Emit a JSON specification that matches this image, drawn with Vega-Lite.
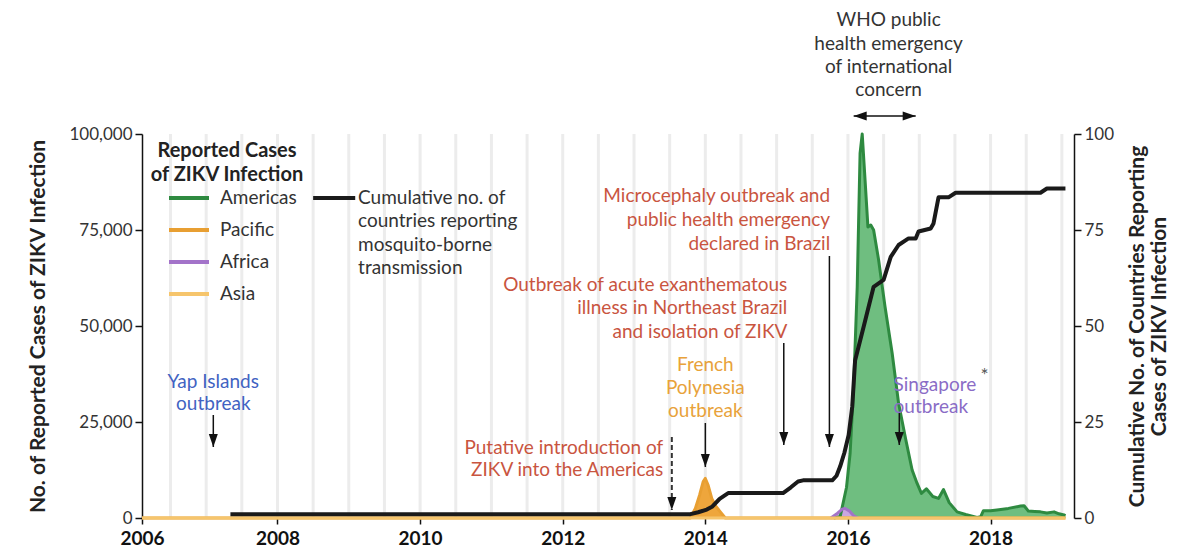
{
  "$schema": "https://vega.github.io/schema/vega-lite/v6.json",
  "width": 932,
  "height": 384,
  "autosize": {"type": "none"},
  "padding": {"left": 142, "top": 134, "right": 122, "bottom": 31},
  "background": "white",
  "config": {
    "font": "Lato",
    "view": {"stroke": null},
    "axis": {"grid": false, "labelFont": "Lato", "titleFont": "Lato"}
  },
  "datasets": {
    "grid": [
      {"year": 2006.5}, {"year": 2007}, {"year": 2007.5}, {"year": 2008}, {"year": 2008.5},
      {"year": 2009}, {"year": 2009.5}, {"year": 2010}, {"year": 2010.5}, {"year": 2011},
      {"year": 2011.5}, {"year": 2012}, {"year": 2012.5}, {"year": 2013}, {"year": 2013.5},
      {"year": 2014}, {"year": 2014.5}, {"year": 2015}, {"year": 2015.5}, {"year": 2016},
      {"year": 2016.5}, {"year": 2017}, {"year": 2017.5}, {"year": 2018}, {"year": 2018.5},
      {"year": 2019}
    ],
    "cases": [
      {"region": "Americas", "year": 2015.8, "cases": 0},
      {"region": "Americas", "year": 2015.89, "cases": 300},
      {"region": "Americas", "year": 2015.98, "cases": 8000},
      {"region": "Americas", "year": 2016.03, "cases": 16800},
      {"region": "Americas", "year": 2016.08, "cases": 34200},
      {"region": "Americas", "year": 2016.13, "cases": 60200},
      {"region": "Americas", "year": 2016.17, "cases": 95000},
      {"region": "Americas", "year": 2016.2, "cases": 100000},
      {"region": "Americas", "year": 2016.24, "cases": 88000},
      {"region": "Americas", "year": 2016.28, "cases": 75800},
      {"region": "Americas", "year": 2016.32, "cases": 76300},
      {"region": "Americas", "year": 2016.36, "cases": 75000},
      {"region": "Americas", "year": 2016.43, "cases": 67200},
      {"region": "Americas", "year": 2016.52, "cases": 55000},
      {"region": "Americas", "year": 2016.62, "cases": 42900},
      {"region": "Americas", "year": 2016.71, "cases": 29900},
      {"region": "Americas", "year": 2016.81, "cases": 20500},
      {"region": "Americas", "year": 2016.9, "cases": 12500},
      {"region": "Americas", "year": 2016.97, "cases": 9000},
      {"region": "Americas", "year": 2017.03, "cases": 6400},
      {"region": "Americas", "year": 2017.1, "cases": 7600},
      {"region": "Americas", "year": 2017.19, "cases": 5600},
      {"region": "Americas", "year": 2017.27, "cases": 5100},
      {"region": "Americas", "year": 2017.34, "cases": 7400},
      {"region": "Americas", "year": 2017.42, "cases": 4000},
      {"region": "Americas", "year": 2017.53, "cases": 1600},
      {"region": "Americas", "year": 2017.65, "cases": 900},
      {"region": "Americas", "year": 2017.81, "cases": 150},
      {"region": "Americas", "year": 2017.86, "cases": 300},
      {"region": "Americas", "year": 2017.9, "cases": 1900},
      {"region": "Americas", "year": 2018.0, "cases": 1900},
      {"region": "Americas", "year": 2018.09, "cases": 2100},
      {"region": "Americas", "year": 2018.25, "cases": 2500},
      {"region": "Americas", "year": 2018.42, "cases": 3100},
      {"region": "Americas", "year": 2018.47, "cases": 3200},
      {"region": "Americas", "year": 2018.53, "cases": 1800},
      {"region": "Americas", "year": 2018.62, "cases": 1700},
      {"region": "Americas", "year": 2018.7, "cases": 1600},
      {"region": "Americas", "year": 2018.79, "cases": 1300},
      {"region": "Americas", "year": 2018.89, "cases": 1600},
      {"region": "Americas", "year": 2018.96, "cases": 1100},
      {"region": "Americas", "year": 2019.03, "cases": 800},
      {"region": "Americas", "year": 2019.05, "cases": 600},
      {"region": "Pacific", "year": 2006.1, "cases": 0},
      {"region": "Pacific", "year": 2013.79, "cases": 0},
      {"region": "Pacific", "year": 2013.86, "cases": 2500},
      {"region": "Pacific", "year": 2013.92, "cases": 6000},
      {"region": "Pacific", "year": 2013.97, "cases": 9500},
      {"region": "Pacific", "year": 2014.0, "cases": 10300},
      {"region": "Pacific", "year": 2014.04, "cases": 8500},
      {"region": "Pacific", "year": 2014.09, "cases": 5100},
      {"region": "Pacific", "year": 2014.15, "cases": 3000},
      {"region": "Pacific", "year": 2014.21, "cases": 1600},
      {"region": "Pacific", "year": 2014.28, "cases": 0},
      {"region": "Pacific", "year": 2019.05, "cases": 0},
      {"region": "Africa", "year": 2015.76, "cases": 0},
      {"region": "Africa", "year": 2015.85, "cases": 1200},
      {"region": "Africa", "year": 2015.92, "cases": 2300},
      {"region": "Africa", "year": 2015.96, "cases": 2500},
      {"region": "Africa", "year": 2016.02, "cases": 1800},
      {"region": "Africa", "year": 2016.08, "cases": 600},
      {"region": "Africa", "year": 2016.14, "cases": 0},
      {"region": "Asia", "year": 2006.1, "cases": 0},
      {"region": "Asia", "year": 2019.05, "cases": 0}
    ],
    "cum": [
      {"year": 2007.34, "n": 1},
      {"year": 2013.79, "n": 1},
      {"year": 2013.9, "n": 1.5},
      {"year": 2014.02, "n": 2.2},
      {"year": 2014.1, "n": 3},
      {"year": 2014.2, "n": 5},
      {"year": 2014.32, "n": 6.5},
      {"year": 2015.09, "n": 6.5},
      {"year": 2015.2, "n": 8},
      {"year": 2015.3, "n": 9.5},
      {"year": 2015.37, "n": 9.8},
      {"year": 2015.78, "n": 9.8},
      {"year": 2015.84, "n": 11},
      {"year": 2015.89, "n": 13.4},
      {"year": 2015.95, "n": 17},
      {"year": 2016.01, "n": 21.6},
      {"year": 2016.06, "n": 29},
      {"year": 2016.1, "n": 41},
      {"year": 2016.22, "n": 49.8},
      {"year": 2016.36, "n": 60.2},
      {"year": 2016.5, "n": 62},
      {"year": 2016.6, "n": 68},
      {"year": 2016.71, "n": 71.1},
      {"year": 2016.85, "n": 72.8},
      {"year": 2016.95, "n": 72.8},
      {"year": 2016.99, "n": 74.6},
      {"year": 2017.16, "n": 75.4},
      {"year": 2017.2, "n": 76.7},
      {"year": 2017.27, "n": 83.5},
      {"year": 2017.41, "n": 83.5},
      {"year": 2017.51, "n": 84.7},
      {"year": 2018.7, "n": 84.7},
      {"year": 2018.79, "n": 85.8},
      {"year": 2019.05, "n": 85.8}
    ],
    "notes": [
      {"x": 2016.57, "y": 129700, "text": "WHO public", "grp": "who"},
      {"x": 2016.57, "y": 123400, "text": "health emergency", "grp": "who"},
      {"x": 2016.57, "y": 117450, "text": "of international", "grp": "who"},
      {"x": 2016.57, "y": 111450, "text": "concern", "grp": "who"},
      {"x": 2015.75, "y": 83850, "text": "Microcephaly outbreak and", "grp": "red"},
      {"x": 2015.75, "y": 77600, "text": "public health emergency", "grp": "red"},
      {"x": 2015.75, "y": 71350, "text": "declared in Brazil", "grp": "red"},
      {"x": 2015.15, "y": 60680, "text": "Outbreak of acute exanthematous", "grp": "red"},
      {"x": 2015.15, "y": 54690, "text": "illness in Northeast Brazil", "grp": "red"},
      {"x": 2015.15, "y": 48440, "text": "and isolation of ZIKV", "grp": "red"},
      {"x": 2014.0, "y": 39840, "text": "French", "grp": "orange"},
      {"x": 2014.0, "y": 33850, "text": "Polynesia", "grp": "orange"},
      {"x": 2014.0, "y": 27860, "text": "outbreak", "grp": "orange"},
      {"x": 2013.41, "y": 18230, "text": "Putative introduction of", "grp": "red"},
      {"x": 2013.41, "y": 12500, "text": "ZIKV into the Americas", "grp": "red"},
      {"x": 2007.1, "y": 35420, "text": "Yap Islands", "grp": "blue"},
      {"x": 2007.1, "y": 29690, "text": "outbreak", "grp": "blue"},
      {"x": 2016.64, "y": 34640, "text": "Singapore", "grp": "purple"},
      {"x": 2016.64, "y": 28910, "text": "outbreak", "grp": "purple"},
      {"x": 2017.86, "y": 37000, "text": "*", "grp": "star"},
      {"x": 2009.13, "y": 83330, "text": "Cumulative no. of", "grp": "legend"},
      {"x": 2009.13, "y": 77340, "text": "countries reporting", "grp": "legend"},
      {"x": 2009.13, "y": 71090, "text": "mosquito-borne", "grp": "legend"},
      {"x": 2009.13, "y": 65100, "text": "transmission", "grp": "legend"}
    ],
    "arrows": [
      {"x": 2007.1, "y": 26820, "y2": 18490, "kind": "solid"},
      {"x": 2014.0, "y": 24740, "y2": 13280, "kind": "solid"},
      {"x": 2015.1, "y": 45570, "y2": 19010, "kind": "solid"},
      {"x": 2015.74, "y": 68230, "y2": 18490, "kind": "solid"},
      {"x": 2016.72, "y": 27340, "y2": 19010, "kind": "solid"},
      {"x": 2013.53, "y": 21090, "y2": 2080, "kind": "dashed"}
    ],
    "hlines": [
      {"x": 2016.08, "x2": 2016.95, "y": 104690, "kind": "who"},
      {"x": 2008.5, "x2": 2009.09, "y": 83330, "kind": "legend"}
    ]
  },
  "layer": [
    {
      "layer": [
        {
          "data": {"name": "grid"},
          "mark": {"type": "rule", "color": "#ececec", "strokeWidth": 3},
          "encoding": {
            "x": {
              "field": "year", "type": "quantitative",
              "scale": {"domain": [2006.1, 2019.17], "nice": false, "zero": false},
              "axis": {
                "orient": "bottom", "title": null,
                "values": [2006.1, 2008, 2010, 2012, 2014, 2016, 2018],
                "labelExpr": "datum.value < 2007 ? '2006' : format(datum.value, 'd')",
                "domain": false, "ticks": true, "tickSize": 6, "tickColor": "#111", "tickWidth": 1.5,
                "labelFontSize": 19, "labelFontWeight": "bold", "labelColor": "#111",
                "labelPadding": 5, "labelFlush": false, "labelOverlap": false
              }
            }
          }
        },
        {
          "data": {"name": "cases"},
          "transform": [{"filter": "datum.region != 'Asia'"}],
          "mark": {"type": "area", "fillOpacity": 1},
          "encoding": {
            "x": {"field": "year", "type": "quantitative"},
            "y": {
              "field": "cases", "type": "quantitative", "stack": null,
              "scale": {"domain": [0, 100000], "nice": false},
              "axis": {
                "orient": "left", "title": "No. of Reported Cases of ZIKV Infection",
                "values": [0, 25000, 50000, 75000, 100000], "format": ",d",
                "domainColor": "#111", "domainWidth": 1.5, "tickColor": "#111", "tickWidth": 1.5, "tickSize": 7,
                "labelFontSize": 17, "labelColor": "#333", "labelPadding": 3,
                "titleFontSize": 21, "titleFontWeight": "bold", "titleColor": "#222", "titlePadding": 20
              }
            },
            "fill": {
              "field": "region", "type": "nominal",
              "scale": {"domain": ["Americas", "Pacific", "Africa"], "range": ["#6fbe80", "#eea63c", "#c9a6e0"]},
              "legend": null
            }
          }
        },
        {
          "data": {"name": "cases"},
          "mark": {"type": "line", "strokeWidth": 3, "strokeJoin": "round"},
          "encoding": {
            "x": {"field": "year", "type": "quantitative"},
            "y": {"field": "cases", "type": "quantitative", "stack": null, "scale": {"domain": [0, 100000], "nice": false}},
            "stroke": {
              "field": "region", "type": "nominal",
              "scale": {"domain": ["Americas", "Pacific", "Africa", "Asia"], "range": ["#2e8a40", "#e89f32", "#a373c9", "#f6c56c"]},
              "legend": {
                "title": ["Reported Cases", "of ZIKV Infection"],
                "orient": "none", "legendX": 8, "legendY": 7, "padding": 0,
                "titleFontSize": 20, "titleFontWeight": "bold", "titleColor": "#222", "titleLineHeight": 24, "titlePadding": -9,
                "titleAlign": "center", "titleAnchor": "middle",
                "labelFontSize": 19, "labelColor": "#333", "labelOffset": 9,
                "symbolType": "stroke", "symbolSize": 1600, "symbolStrokeWidth": 4, "symbolOffset": 10,
                "rowPadding": -1
              }
            }
          }
        },
        {
          "data": {"name": "notes"},
          "transform": [{"filter": "datum.grp == 'red'"}],
          "mark": {"type": "text", "align": "right", "baseline": "middle", "fontSize": 19},
          "encoding": {
            "x": {"field": "x", "type": "quantitative"},
            "y": {"field": "y", "type": "quantitative", "scale": {"domain": [0, 100000], "nice": false}},
            "text": {"field": "text"},
            "color": {
              "field": "grp", "type": "nominal", "legend": null,
              "scale": {"domain": ["who", "red", "orange", "blue", "purple", "star", "legend"], "range": ["#333333", "#c9553f", "#e8a23a", "#4163c2", "#8a6cc6", "#555555", "#333333"]}
            }
          }
        },
        {
          "data": {"name": "notes"},
          "transform": [{"filter": "datum.grp == 'who' || datum.grp == 'orange' || datum.grp == 'blue'"}],
          "mark": {"type": "text", "align": "center", "baseline": "middle", "fontSize": 19},
          "encoding": {
            "x": {"field": "x", "type": "quantitative"},
            "y": {"field": "y", "type": "quantitative", "scale": {"domain": [0, 100000], "nice": false}},
            "text": {"field": "text"},
            "color": {
              "field": "grp", "type": "nominal", "legend": null,
              "scale": {"domain": ["who", "red", "orange", "blue", "purple", "star", "legend"], "range": ["#333333", "#c9553f", "#e8a23a", "#4163c2", "#8a6cc6", "#555555", "#333333"]}
            }
          }
        },
        {
          "data": {"name": "notes"},
          "transform": [{"filter": "datum.grp == 'purple' || datum.grp == 'legend' || datum.grp == 'star'"}],
          "mark": {"type": "text", "align": "left", "baseline": "middle", "fontSize": 19},
          "encoding": {
            "x": {"field": "x", "type": "quantitative"},
            "y": {"field": "y", "type": "quantitative", "scale": {"domain": [0, 100000], "nice": false}},
            "text": {"field": "text"},
            "color": {
              "field": "grp", "type": "nominal", "legend": null,
              "scale": {"domain": ["who", "red", "orange", "blue", "purple", "star", "legend"], "range": ["#333333", "#c9553f", "#e8a23a", "#4163c2", "#8a6cc6", "#555555", "#333333"]}
            }
          }
        },
        {
          "data": {"name": "arrows"},
          "transform": [{"filter": "datum.kind == 'solid'"}],
          "mark": {"type": "rule", "color": "#111", "strokeWidth": 1.5},
          "encoding": {
            "x": {"field": "x", "type": "quantitative"},
            "y": {"field": "y", "type": "quantitative", "scale": {"domain": [0, 100000], "nice": false}},
            "y2": {"field": "y2"}
          }
        },
        {
          "data": {"name": "arrows"},
          "transform": [{"filter": "datum.kind == 'dashed'"}],
          "mark": {"type": "rule", "color": "#333", "strokeWidth": 2, "strokeDash": [5, 3]},
          "encoding": {
            "x": {"field": "x", "type": "quantitative"},
            "y": {"field": "y", "type": "quantitative", "scale": {"domain": [0, 100000], "nice": false}},
            "y2": {"field": "y2"}
          }
        },
        {
          "data": {"name": "arrows"},
          "mark": {"type": "point", "shape": "M-4.5,-13L4.5,-13L0,0Z", "size": 4, "filled": true, "color": "#111", "opacity": 1},
          "encoding": {
            "x": {"field": "x", "type": "quantitative"},
            "y": {"field": "y2", "type": "quantitative", "scale": {"domain": [0, 100000], "nice": false}}
          }
        },
        {
          "data": {"name": "hlines"},
          "transform": [{"filter": "datum.kind == 'who'"}],
          "mark": {"type": "rule", "color": "#111", "strokeWidth": 1.5},
          "encoding": {
            "x": {"field": "x", "type": "quantitative"},
            "x2": {"field": "x2"},
            "y": {"field": "y", "type": "quantitative", "scale": {"domain": [0, 100000], "nice": false}}
          }
        },
        {
          "data": {"name": "hlines"},
          "transform": [{"filter": "datum.kind == 'who'"}],
          "mark": {"type": "point", "shape": "M13,-4.5L13,4.5L0,0Z", "size": 4, "filled": true, "color": "#111", "opacity": 1},
          "encoding": {
            "x": {"field": "x", "type": "quantitative"},
            "y": {"field": "y", "type": "quantitative", "scale": {"domain": [0, 100000], "nice": false}}
          }
        },
        {
          "data": {"name": "hlines"},
          "transform": [{"filter": "datum.kind == 'who'"}],
          "mark": {"type": "point", "shape": "M-13,-4.5L-13,4.5L0,0Z", "size": 4, "filled": true, "color": "#111", "opacity": 1},
          "encoding": {
            "x": {"field": "x2", "type": "quantitative"},
            "y": {"field": "y", "type": "quantitative", "scale": {"domain": [0, 100000], "nice": false}}
          }
        },
        {
          "data": {"name": "hlines"},
          "transform": [{"filter": "datum.kind == 'legend'"}],
          "mark": {"type": "rule", "color": "#1a1a1a", "strokeWidth": 4},
          "encoding": {
            "x": {"field": "x", "type": "quantitative"},
            "x2": {"field": "x2"},
            "y": {"field": "y", "type": "quantitative", "scale": {"domain": [0, 100000], "nice": false}}
          }
        }
      ]
    },
    {
      "data": {"name": "cum"},
      "mark": {"type": "line", "color": "#1a1a1a", "strokeWidth": 4, "strokeJoin": "round"},
      "encoding": {
        "x": {"field": "year", "type": "quantitative"},
        "y": {
          "field": "n", "type": "quantitative",
          "scale": {"domain": [0, 100], "nice": false},
          "axis": {
            "orient": "right",
            "title": ["Cumulative No. of Countries Reporting", "Cases of ZIKV Infection"],
            "values": [0, 25, 50, 75, 100], "format": "d",
            "domainColor": "#111", "domainWidth": 1.5, "tickColor": "#111", "tickWidth": 1.5, "tickSize": 7,
            "labelFontSize": 17, "labelColor": "#333", "labelPadding": 3,
            "titleFontSize": 21, "titleFontWeight": "bold", "titleColor": "#222", "titleAngle": 270,
            "titleLineHeight": 22, "titlePadding": 12
          }
        }
      }
    }
  ],
  "resolve": {"scale": {"y": "independent"}}
}
